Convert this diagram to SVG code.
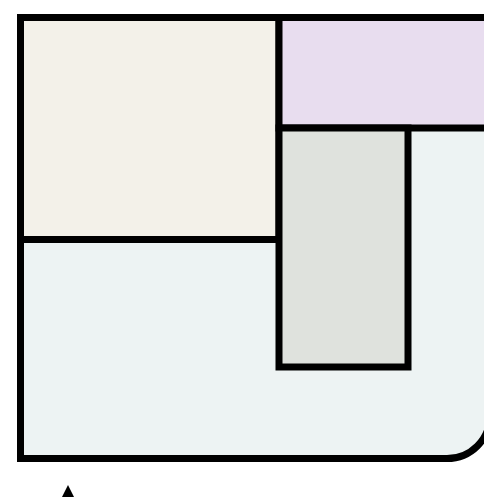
<svg xmlns="http://www.w3.org/2000/svg" width="484" height="497" viewBox="0 0 484 497">
<style>
.r{stroke:#000;stroke-width:7;stroke-linejoin:miter}
</style>
<rect width="484" height="497" fill="#fff"/>
<g id="frame">
<path class="r" d="M20.5 17.5 H490 V415.5 A43 43 0 0 1 447 458.5 H20.5 Z" fill="#EDF3F3"/>
</g>
<g id="beige">
<rect class="r" x="20.5" y="17.5" width="258.5" height="222" fill="#F3F1E9"/>
</g>
<g id="purple">
<rect class="r" x="279" y="17.5" width="211" height="110.5" fill="#E8DDEF"/>
</g>
<g id="grey">
<rect class="r" x="279" y="128" width="129" height="239" fill="#DFE2DD"/>
</g>
<g id="connectors">
<polygon points="68,485 60,501 76,501" fill="#000"/>
</g>
</svg>
